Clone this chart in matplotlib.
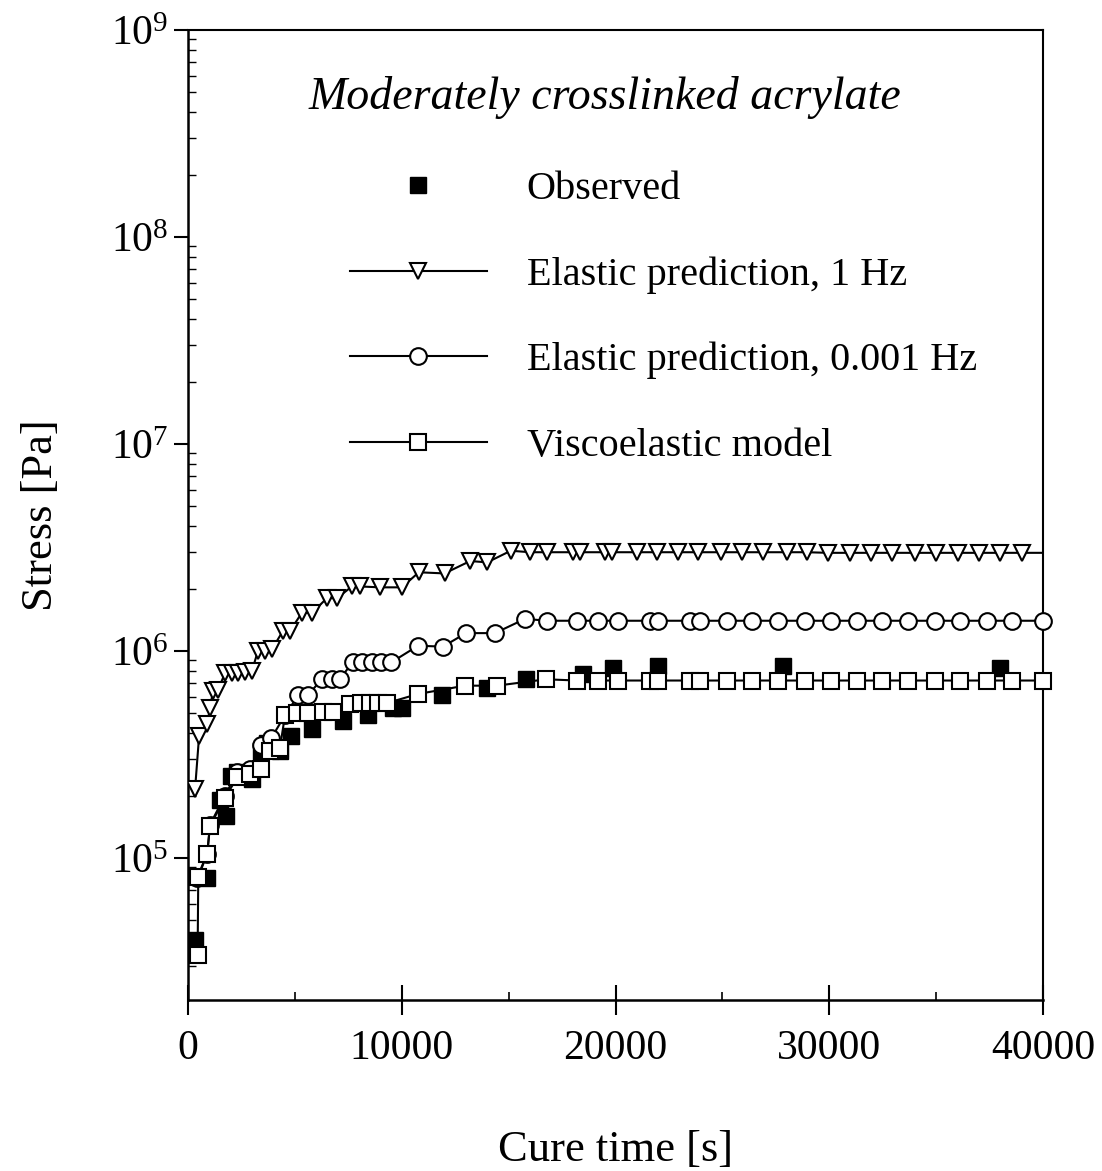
import matplotlib
matplotlib.use("Agg")
import matplotlib.pyplot as plt
from matplotlib.ticker import LogLocator, MultipleLocator, NullFormatter

plt.rcParams['font.family'] = ['Liberation Serif', 'DejaVu Serif']
plt.rcParams['mathtext.fontset'] = 'custom'
plt.rcParams['mathtext.rm'] = 'Liberation Serif'
plt.rcParams['mathtext.it'] = 'Liberation Serif:italic'

# Observed stress (filled squares)
obs_t = [330, 900, 1500, 1800, 2000, 2300, 2700, 3000, 3400, 3700, 4300, 4800,
         5800, 7250, 8400, 9600, 10000, 11900, 14000, 15800, 18500, 19900,
         22000, 27850, 38000]
obs_s = [4.0e4, 8.0e4, 1.9e5, 1.6e5, 2.5e5, 2.6e5, 2.5e5, 2.4e5, 3.3e5, 3.6e5,
         3.3e5, 3.9e5, 4.2e5, 4.6e5, 4.9e5, 5.3e5, 5.3e5, 6.1e5, 6.6e5, 7.3e5,
         7.7e5, 8.3e5, 8.5e5, 8.5e5, 8.3e5]

# Elastic prediction, 1 Hz (triangles)
hz1_t = [330, 520, 900, 1030, 1170, 1400, 1730, 2050, 2340, 2650, 2990, 3270,
         3600, 3930, 4440, 4770, 5330, 5800, 6500, 6970, 7670, 8050, 8980,
         10000, 10800, 12000, 13200, 14000, 15100, 16000, 16800, 18000, 18350,
         19500, 19850, 21000, 21950, 22900, 23850, 24950, 25900, 26900, 28000,
         28950, 29950, 30950, 31950, 32950, 34000, 35000, 36000, 37000, 38000,
         39000, 40000]
hz1_s = [2.15e5, 3.9e5, 4.45e5, 5.3e5, 6.4e5, 6.5e5, 7.8e5, 7.8e5, 7.85e5,
         7.9e5, 8.0e5, 1.0e6, 1.0e6, 1.02e6, 1.25e6, 1.25e6, 1.53e6, 1.53e6,
         1.8e6, 1.8e6, 2.05e6, 2.05e6, 2.03e6, 2.03e6, 2.4e6, 2.37e6, 2.72e6,
         2.68e6, 3.05e6, 3.0e6, 3.0e6, 3.0e6, 3.0e6, 3.0e6, 3.0e6, 3.0e6,
         3.0e6, 3.0e6, 3.0e6, 3.0e6, 3.0e6, 3.0e6, 3.0e6, 3.0e6, 2.98e6,
         2.98e6, 2.98e6, 2.98e6, 2.98e6, 2.98e6, 2.98e6, 2.98e6, 2.98e6,
         2.98e6, 2.98e6]

# Elastic prediction, 0.001 Hz (circles)
lf_t = [420, 900, 1030, 1730, 2300, 2900, 3400, 3900, 4540, 5150, 5610, 6270,
        6740, 7110, 7700, 8150, 8600, 9050, 9500, 10760, 11930, 13000, 14360,
        15770, 16790, 18200, 19200, 20100, 21600, 22000, 23500, 23950, 25200,
        26400, 27600, 28850, 30100, 31300, 32450, 33700, 34950, 36100, 37400,
        38550, 40000]
lf_s = [8.0e4, 1.05e5, 1.45e5, 2.0e5, 2.6e5, 2.7e5, 3.5e5, 3.8e5, 4.9e5,
        6.1e5, 6.1e5, 7.35e5, 7.35e5, 7.35e5, 8.8e5, 8.8e5, 8.8e5, 8.8e5,
        8.8e5, 1.06e6, 1.05e6, 1.22e6, 1.22e6, 1.43e6, 1.4e6, 1.4e6, 1.4e6,
        1.4e6, 1.4e6, 1.4e6, 1.4e6, 1.4e6, 1.4e6, 1.4e6, 1.4e6, 1.4e6, 1.4e6,
        1.4e6, 1.4e6, 1.4e6, 1.4e6, 1.4e6, 1.4e6, 1.4e6, 1.4e6]

# Viscoelastic model (open squares)
ve_t = [450, 480, 900, 1030, 1730, 2300, 2900, 3400, 3850, 4300, 4540, 5100,
        5600, 6300, 6800, 7600, 8100, 8500, 8900, 9300, 10760, 12960, 14450,
        16750, 18200, 19200, 20100, 21600, 22000, 23500, 23950, 25200, 26400,
        27600, 28850, 30100, 31300, 32450, 33700, 34950, 36100, 37400, 38550,
        40000]
ve_s = [3.4e4, 8.1e4, 1.05e5, 1.43e5, 1.95e5, 2.45e5, 2.55e5, 2.7e5, 3.3e5,
        3.4e5, 4.9e5, 5.0e5, 5.0e5, 5.05e5, 5.05e5, 5.55e5, 5.6e5, 5.6e5,
        5.6e5, 5.6e5, 6.2e5, 6.8e5, 6.8e5, 7.3e5, 7.2e5, 7.2e5, 7.2e5, 7.2e5,
        7.2e5, 7.2e5, 7.2e5, 7.2e5, 7.2e5, 7.2e5, 7.2e5, 7.2e5, 7.2e5, 7.2e5,
        7.2e5, 7.2e5, 7.2e5, 7.2e5, 7.2e5, 7.2e5]

fig = plt.figure(figsize=(11.02, 11.71), dpi=100)
ax = fig.add_axes([0.1706, 0.1460, 0.7759, 0.8284])

ax.plot(obs_t, obs_s, ls="none", marker="s", ms=11, color="black",
        label="Observed", zorder=3)
ax.plot(hz1_t, hz1_s, color="black", lw=1.5, marker="v", ms=11, mfc="white",
        mec="black", mew=1.5, markevery=slice(0, -1),
        label="Elastic prediction, 1 Hz", zorder=4)
ax.plot(lf_t, lf_s, color="black", lw=1.5, marker="o", ms=12, mfc="white",
        mec="black", mew=1.5, label="Elastic prediction, 0.001 Hz",
        zorder=4, clip_on=False)
ax.plot(ve_t, ve_s, color="black", lw=1.5, marker="s", ms=12, mfc="white",
        mec="black", mew=1.5, label="Viscoelastic model", zorder=4,
        clip_on=False)

ax.set_yscale("log")
ax.set_ylim(2.06e4, 1e9)
ax.set_xlim(0, 40000)

ax.xaxis.set_major_locator(MultipleLocator(10000))
ax.xaxis.set_minor_locator(MultipleLocator(5000))
ax.yaxis.set_major_locator(LogLocator(base=10, numticks=20))
ax.yaxis.set_minor_locator(LogLocator(base=10, subs=range(2, 10), numticks=20))
ax.yaxis.set_minor_formatter(NullFormatter())

ax.tick_params(axis="x", which="major", direction="inout", length=22,
               width=1.5, labelsize=30, pad=10)
ax.tick_params(axis="x", which="minor", direction="in", length=6, width=1.2)
ax.tick_params(axis="y", which="major", direction="out", length=10,
               width=1.5, labelsize=30, pad=4)
ax.tick_params(axis="y", which="minor", direction="in", length=6, width=1.0)

for side in ["left", "bottom"]:
    ax.spines[side].set_linewidth(1.8)
for side in ["right", "top"]:
    ax.spines[side].set_linewidth(1.5)

ax.set_xlabel("Cure time [s]", fontsize=32, labelpad=45)
ax.set_ylabel("Stress [Pa]", fontsize=32, labelpad=36)

ax.text(0.488, 0.930, "Moderately crosslinked acrylate", transform=ax.transAxes,
        ha="center", va="center", fontsize=33, style="italic")

ax.legend(loc="upper left", bbox_to_anchor=(0.189, 0.855), frameon=False,
          fontsize=29, numpoints=1, handlelength=3.4, handletextpad=1.0,
          labelspacing=1.2, borderpad=0, borderaxespad=0)

plt.savefig("out.png", dpi=100)
